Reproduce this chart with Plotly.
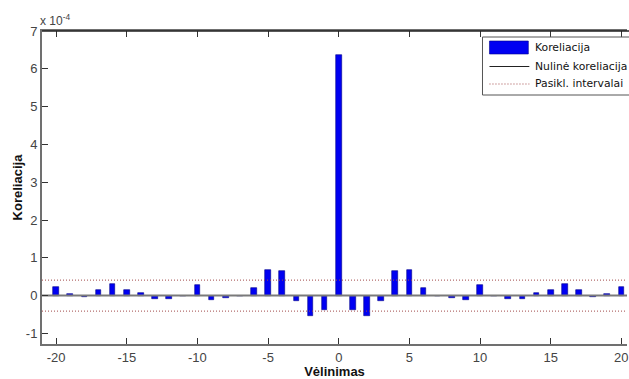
import plotly.graph_objects as go

# Cross-correlation lags and values (units of 1e-4)
lags = list(range(-20, 21))
corr_e4 = [
    0.22, 0.04, -0.04, 0.14, 0.32, 0.14, 0.06, -0.09, -0.09, 0.0,
    0.29, -0.12, -0.06, 0.0, 0.19, 0.68, 0.65, -0.13, -0.55, -0.39,
    6.37,
    -0.39, -0.55, -0.13, 0.65, 0.68, 0.19, 0.0, -0.06, -0.12, 0.29,
    0.0, -0.09, -0.09, 0.06, 0.14, 0.32, 0.14, -0.04, 0.04, 0.22,
]
conf_bound_e4 = 0.41
scale = 1e-4
corr = [v * scale for v in corr_e4]

x_range = [-21.0, 20.4]
y_range = [-1.28e-4, 7e-4]
y_ticks = list(range(-1, 8))
x_ticks = [-20, -15, -10, -5, 0, 5, 10, 15, 20]

W, H = 629, 379
ML, MT, MB, MR = 42, 31, 35, 0
PW, PH = W - ML - MR, H - MT - MB


def px(x):
    return (x - ML) / PW


def py(y):
    return (H - MB - y) / PH


DOTS = "1px,2px"
CONF_COLOR = "#a04848"

fig = go.Figure()

# zero-correlation line
fig.add_trace(go.Scatter(
    x=x_range, y=[0, 0], mode="lines",
    line=dict(color="#7a7a7a", width=2), showlegend=False, hoverinfo="skip",
))
# confidence interval bounds
for sgn in (1, -1):
    fig.add_trace(go.Scatter(
        x=x_range, y=[sgn * conf_bound_e4 * scale] * 2, mode="lines",
        line=dict(color=CONF_COLOR, width=1, dash=DOTS),
        showlegend=False, hoverinfo="skip",
    ))
# correlation bars
fig.add_trace(go.Bar(
    x=lags, y=corr, width=0.4,
    marker=dict(color="#0000f2", line=dict(color="#00008a", width=0.6)),
    showlegend=False,
))

tick_font = dict(family="Liberation Sans, Arial", size=13, color="#444444")

fig.update_layout(
    width=W, height=H,
    margin=dict(l=ML, r=MR, t=MT, b=MB),
    paper_bgcolor="white", plot_bgcolor="white",
    bargap=0,
    xaxis=dict(
        range=x_range, tickvals=x_ticks, ticktext=[str(t) for t in x_ticks],
        ticks="inside", ticklen=6, tickcolor="#333333", tickwidth=1,
        ticklabeloverflow="allow",
        showline=True, linecolor="#707070", linewidth=2, mirror="ticks",
        showgrid=False, zeroline=False, tickfont=tick_font,
        title=dict(text="<b>Vėlinimas</b>", standoff=4,
                   font=dict(family="Liberation Sans, Arial", size=13, color="#111111")),
    ),
    yaxis=dict(
        range=y_range, tickvals=[t * scale for t in y_ticks],
        ticktext=[str(t) for t in y_ticks],
        ticks="inside", ticklen=6, tickcolor="#333333", tickwidth=1,
        showline=True, linecolor="#707070", linewidth=2, mirror=False,
        showgrid=False, zeroline=False, tickfont=tick_font,
        title=dict(text="<b>Koreliacija</b>", standoff=0,
                   font=dict(family="Liberation Sans, Arial", size=13, color="#111111")),
    ),
)

# top frame edge drawn darker
fig.add_shape(type="line", xref="paper", yref="paper", x0=0, x1=1.05, y0=1, y1=1,
              line=dict(color="#222222", width=1.5))

# exponent label
fig.add_annotation(xref="paper", yref="paper", x=px(38), y=py(20),
                   xanchor="left", yanchor="middle", showarrow=False,
                   text="x 10<sup>-4</sup>",
                   font=dict(family="Liberation Sans, Arial", size=12, color="#444444"))

# legend box
leg_font = dict(family="DejaVu Sans", size=10.8, color="#111111")
fig.add_shape(type="rect", xref="paper", yref="paper",
              x0=px(484), x1=px(660), y0=py(95), y1=py(37),
              line=dict(color="#555555", width=1), fillcolor="white")
fig.add_shape(type="rect", xref="paper", yref="paper",
              x0=px(491), x1=px(530), y0=py(54), y1=py(41),
              line=dict(color="#00008a", width=0.6), fillcolor="#0000f2")
fig.add_shape(type="line", xref="paper", yref="paper",
              x0=px(491), x1=px(531), y0=py(66.5), y1=py(66.5),
              line=dict(color="#222222", width=1))
fig.add_shape(type="line", xref="paper", yref="paper",
              x0=px(491), x1=px(531), y0=py(84), y1=py(84),
              line=dict(color=CONF_COLOR, width=1, dash=DOTS))
for label, yy in (("Koreliacija", 47.5), ("Nulinė koreliacija", 66), ("Pasikl. intervalai", 83.5)):
    fig.add_annotation(xref="paper", yref="paper", x=px(535), y=py(yy),
                       xanchor="left", yanchor="middle", showarrow=False,
                       text=label, font=leg_font)

fig.write_html("out.html")
